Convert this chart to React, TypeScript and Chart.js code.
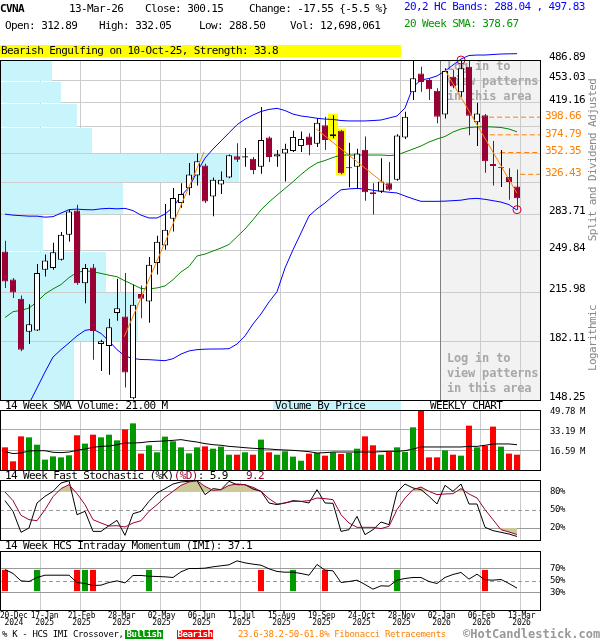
import React, { useEffect, useRef } from 'react';
import { Chart, registerables } from 'chart.js';

Chart.register(...registerables);

const FONT = "'DejaVu Sans Mono', monospace";

// ---------------- categories / tick labels ----------------
const tickWeeks = [0, 4, 9, 14, 19, 24, 29, 34, 39, 44, 49, 54, 59, 64];
const tickDates = ['20-Dec', '17-Jan', '21-Feb', '28-Mar', '02-May', '06-Jun', '11-Jul', '15-Aug', '19-Sep', '24-Oct', '28-Nov', '02-Jan', '06-Feb', '13-Mar'];
const tickYears = ['2024', '2025', '2025', '2025', '2025', '2025', '2025', '2025', '2025', '2025', '2025', '2026', '2026', '2026'];

const priceTicks = [148.25, 182.11, 215.98, 249.84, 283.71, 317.57, 351.44, 385.3, 419.16, 453.03, 486.89];
const priceTickLabels = ['148.25', '182.11', '215.98', '249.84', '283.71', '', '', '', '419.16', '453.03', '486.89'];
const volumeTicks = [16.59, 33.19, 49.78];
const stochTicks = [20, 50, 80];
const imiTicks = [30, 50, 70];

// ---------------- weekly OHLC ----------------
const open = [
  249.3, 226.0, 211.2, 188.3, 189.1, 233.8, 235.2, 242.1, 264.2, 287.6,
  223.1, 235.7, 180.4, 179.0, 201.0, 198.6, 149.2, 214.7, 209.2, 239.4,
  254.4, 279.4, 295.2, 310.8, 325.0, 336.8, 302.0, 315.0, 322.8, 347.7,
  346.2, 344.6, 335.1, 371.2, 347.4, 351.0, 354.2, 360.3, 372.5, 363.2,
  387.4, 373.0, 380.0, 333.4, 335.1, 355.8, 306.7, 307.4, 316.5, 320.2,
  371.2, 435.0, 464.3, 454.0, 437.1, 402.5, 459.1, 435.0, 475.6, 391.5,
  401.4, 338.3, 333.8, 323.3, 312.89,
];
const high = [
  258.7, 227.1, 213.7, 207.3, 238.6, 246.6, 256.9, 266.7, 288.3, 293.5,
  238.6, 238.6, 183.1, 196.9, 226.6, 231.2, 221.8, 221.2, 244.4, 263.4,
  294.3, 311.2, 316.5, 339.5, 351.0, 338.8, 322.8, 329.6, 349.8, 364.0,
  357.8, 346.9, 413.2, 372.5, 355.5, 363.2, 380.0, 379.1, 376.9, 396.9,
  399.1, 401.4, 381.3, 364.5, 357.0, 372.5, 316.5, 345.4, 340.8, 375.6,
  406.4, 485.2, 475.6, 456.6, 441.2, 472.9, 470.2, 486.89, 485.0, 419.1,
  403.0, 366.9, 355.5, 333.4, 332.05,
];
const low = [
  219.3, 211.8, 175.8, 180.4, 188.7, 228.4, 233.8, 241.5, 258.0, 221.8,
  208.0, 170.7, 164.1, 161.9, 195.6, 154.9, 148.6, 197.4, 194.3, 230.0,
  250.7, 267.3, 290.3, 303.5, 314.0, 295.2, 282.0, 304.7, 322.0, 340.8,
  335.1, 326.5, 327.0, 340.8, 335.1, 318.3, 352.9, 352.9, 349.0, 359.1,
  355.5, 370.4, 326.5, 312.0, 310.3, 297.6, 283.7, 305.7, 308.2, 319.1,
  369.5, 423.4, 435.9, 423.4, 390.1, 396.9, 441.2, 428.3, 374.3, 360.3,
  328.1, 314.0, 312.4, 298.6, 288.5,
];
const close = [
  224.3, 216.0, 176.8, 193.3, 231.2, 241.5, 248.6, 264.2, 286.6, 223.1,
  235.2, 188.7, 182.1, 191.2, 204.4, 163.2, 206.8, 211.2, 237.9, 257.8,
  268.9, 300.4, 304.7, 326.1, 341.6, 296.8, 320.2, 320.2, 349.0, 343.4,
  347.7, 331.5, 368.2, 346.9, 350.2, 357.0, 372.1, 369.5, 361.5, 391.1,
  368.2, 375.6, 327.7, 334.6, 351.0, 306.7, 304.7, 318.3, 309.2, 373.8,
  399.1, 456.6, 450.7, 439.6, 399.1, 468.4, 443.9, 472.9, 400.5, 403.9,
  341.6, 336.0, 334.6, 317.7, 300.15,
];

// 20,2 HC bands and 20 week SMA
const upperBand = [
  284.0, 283.0, 282.5, 282.0, 282.0, 281.0, 281.5, 285.0, 288.5, 289.0,
  288.5, 288.3, 289.3, 289.8, 289.3, 289.8, 287.5, 283.0, 280.2, 280.2,
  284.0, 291.0, 302.6, 312.0, 329.1, 345.5, 356.6, 366.8, 377.4, 388.3,
  395.8, 401.7, 406.7, 409.6, 411.2, 408.0, 403.0, 400.3, 398.9, 397.1,
  396.0, 395.5, 394.0, 393.4, 393.4, 393.4, 394.0, 394.7, 397.5, 400.3,
  411.7, 443.0, 454.0, 456.4, 460.5, 468.4, 478.5, 488.6, 494.6, 495.4,
  495.4, 496.3, 497.2, 497.5, 497.83,
];
const lowerBand = [
  131.0, 136.0, 141.5, 146.3, 154.6, 163.5, 172.3, 176.8, 181.0, 185.5,
  189.1, 190.0, 187.1, 182.2, 176.8, 172.9, 171.4, 170.8, 170.7, 170.4,
  170.1, 171.3, 174.1, 176.0, 176.8, 177.1, 177.2, 177.2, 177.4, 180.3,
  185.5, 193.4, 200.3, 208.9, 216.5, 235.2, 250.7, 265.9, 282.2, 289.3,
  295.3, 302.6, 309.2, 310.2, 310.7, 310.2, 308.7, 307.5, 306.6, 305.8,
  302.6, 299.6, 297.0, 297.0, 297.0, 297.2, 297.7, 298.2, 299.6, 300.1,
  299.1, 297.7, 296.2, 293.6, 288.04,
];
const sma20 = [
  197.8, 201.9, 202.8, 204.5, 208.9, 214.8, 218.6, 222.0, 227.5, 231.6,
  233.0, 232.2, 230.8, 229.4, 228.2, 224.8, 222.0, 219.0, 218.6, 219.4,
  220.9, 225.8, 232.0, 236.5, 245.3, 247.0, 249.6, 252.3, 255.4, 262.4,
  269.6, 278.4, 288.3, 296.3, 303.5, 310.7, 318.1, 326.2, 333.7, 339.6,
  342.6, 346.2, 349.2, 349.2, 349.2, 349.2, 349.2, 349.2, 348.6, 349.2,
  352.9, 356.6, 360.4, 365.5, 369.4, 372.6, 378.5, 382.5, 384.5, 385.2,
  385.6, 385.2, 384.5, 382.5, 378.67,
];

// volume (millions) and its 14 week SMA
const volume = [
  18.8, 7.2, 27.9, 27.1, 21.0, 8.6, 11.3, 10.5, 12.2, 28.8,
  21.9, 29.3, 27.1, 29.3, 24.6, 33.7, 38.7, 13.6, 20.5, 14.7,
  27.7, 23.8, 18.8, 13.8, 18.8, 19.6, 17.7, 19.4, 12.7, 12.7,
  14.7, 12.7, 25.2, 14.7, 12.7, 15.5, 11.1, 7.7, 13.6, 14.1,
  11.9, 14.7, 13.3, 14.1, 17.7, 27.9, 20.5, 12.7, 14.9, 18.8,
  14.9, 35.4, 49.78, 10.5, 10.5, 16.3, 12.7, 11.9, 36.8, 18.8,
  20.2, 36.0, 19.4, 13.6, 12.7,
];
const volumeSma = [
  15.2, 13.6, 14.1, 15.8, 16.0, 16.0, 14.7, 14.4, 14.9, 16.3,
  17.4, 18.8, 19.6, 19.9, 21.0, 22.4, 22.4, 22.7, 23.5, 23.8,
  24.1, 24.6, 25.2, 24.1, 23.2, 21.9, 21.0, 20.5, 19.6, 19.1,
  18.5, 18.0, 17.7, 17.4, 16.9, 16.6, 16.3, 15.8, 15.2, 14.1,
  14.4, 14.9, 14.9, 14.9, 14.9, 14.9, 14.9, 15.2, 15.5, 15.5,
  16.0, 17.4, 19.1, 19.1, 19.1, 19.1, 19.1, 19.1, 19.6, 19.6,
  20.5, 21.6, 21.6, 21.6, 21.0,
];

// volume by price, bottom band to top band (millions)
const volumeByPrice = [37, 69, 53, 21.5, 61.5, 119.5, 46, 38.5, 30.5, 26];

// 14 week fast stochastic
const stochK = [
  65.6, 47.8, 12.8, 20.0, 61.7, 72.8, 81.1, 95.0, 98.9, 42.2,
  47.8, 14.4, 14.4, 23.9, 32.8, 7.8, 43.9, 47.8, 64.4, 78.3,
  85.6, 93.3, 96.7, 97.8, 98.9, 75.6, 85.6, 83.9, 97.8, 92.2,
  92.2, 85.0, 81.1, 61.7, 58.9, 61.7, 65.6, 64.4, 61.7, 83.9,
  61.7, 61.1, 14.4, 17.2, 39.4, 8.9, 17.2, 30.0, 25.6, 80.0,
  93.3, 86.7, 83.9, 72.8, 60.0, 91.1, 81.1, 93.3, 60.0, 60.0,
  21.1, 15.6, 12.8, 10.0, 5.9,
];
const stochD = [
  80.0, 65.6, 41.1, 33.9, 32.2, 50.6, 72.2, 85.6, 92.2, 77.2,
  58.9, 33.9, 28.3, 23.3, 23.9, 21.7, 28.3, 32.2, 47.8, 58.9,
  71.1, 81.1, 91.1, 96.7, 98.9, 89.4, 82.8, 83.9, 91.1, 93.3,
  92.2, 87.8, 81.1, 68.9, 60.0, 61.7, 64.4, 64.4, 65.6, 70.0,
  68.9, 67.2, 42.2, 28.3, 21.1, 21.1, 21.1, 19.0, 22.8, 50.6,
  70.0, 83.9, 88.3, 81.1, 75.6, 76.7, 77.2, 85.6, 76.7, 70.0,
  50.6, 33.9, 17.2, 13.3, 9.2,
];

// 14 week HCS intraday momentum
const imi = [
  68.6, 61.9, 49.4, 48.3, 55.1, 59.0, 59.0, 59.0, 59.0, 46.6,
  44.9, 41.5, 42.1, 46.6, 49.4, 46.0, 58.5, 58.5, 57.3, 56.8,
  56.2, 55.1, 64.7, 70.3, 70.3, 70.9, 73.2, 74.9, 76.6, 83.3,
  79.9, 77.7, 76.0, 69.8, 65.3, 64.1, 64.1, 61.9, 59.0, 77.1,
  67.5, 66.4, 46.6, 48.3, 50.6, 43.2, 35.3, 41.0, 40.4, 50.6,
  53.4, 55.1, 55.1, 48.3, 44.9, 55.1, 60.2, 63.6, 52.3, 60.7,
  51.1, 50.6, 51.7, 44.9, 37.1,
];
const imiBullishCross = [4, 10, 18, 36, 49];
const imiBearishCross = [0, 9, 11, 32, 40, 60];

// patterns, trend lines, fibonacci
const patternWeeks = [41, 42];
const trendLines = [
  [[14.9, 185.0], [24.9, 353.3]],
  [[38.9, 382.5], [47.9, 312.6]],
  [[55.0, 470.2], [64.0, 305.5]],
];
const fibLevels = [398.66, 374.79, 352.35, 326.43];
const fibStartWeek = [58.5, 59.6, 61.9, 64.4];
const swingPoints = [[57, 486.89], [64, 288.5]];
const shadeFromWeek = 54;
const loginLines = ['Log in to', 'view patterns', 'in this area'];

// ---------------- styling ----------------
const X_MIN = -0.625;
const X_MAX = 66.875;
const GRID_SHIFT = 0.375; // date gridline sits at the right edge of a weekly bar
const GRID = '#cccccc';
const DARKGRID = '#999999';
const CANDLE_RED = '#990033';
const VOL_GREEN = '#009900';
const VOL_RED = '#ff0000';
const KHAKI = '#ccc899';
const ORANGE = '#ff8000';
const CLEAR = 'rgba(0,0,0,0)';
const IMI_BAR = [32, 68];

const idx = open.map((_, i) => i);
const isUp = (i: number) => close[i] >= open[i];
const toXY = (arr: number[]) => arr.map((v, i) => ({ x: i, y: v }));

const common: any = {
  responsive: false,
  maintainAspectRatio: false,
  animation: false,
  devicePixelRatio: 1,
  events: [],
  plugins: { legend: { display: false }, tooltip: { enabled: false } },
};

function layoutPad(top: number, bottom: number): any {
  return { autoPadding: false, padding: { top, bottom, left: 0, right: 0 } };
}

function xAxis(): any {
  return {
    type: 'linear',
    min: X_MIN,
    max: X_MAX,
    offset: false,
    afterBuildTicks: (s: any) => {
      s.ticks = tickWeeks.map((w) => ({ value: w + GRID_SHIFT }));
    },
    ticks: { display: false },
    grid: { offset: false, drawTicks: false, lineWidth: 1, color: (c: any) => (c.index === 0 ? CLEAR : GRID) },
    border: { display: false },
    afterFit: (s: any) => {
      s.height = 0;
      s.paddingLeft = 0;
      s.paddingRight = 0;
      s.paddingTop = 0;
      s.paddingBottom = 0;
    },
  };
}

function rightAxis(extra: any): any {
  return {
    position: 'right',
    border: { display: false },
    afterFit: (s: any) => {
      s.width = 60;
      s.paddingTop = 0;
      s.paddingBottom = 0;
    },
    ...extra,
  };
}

function drawFrame(chart: any) {
  const { ctx, chartArea: a } = chart;
  ctx.save();
  ctx.strokeStyle = '#000';
  ctx.lineWidth = 1;
  ctx.setLineDash([]);
  ctx.strokeRect(a.left + 0.5, a.top + 0.5, a.right - a.left, a.bottom - a.top);
  ctx.restore();
}

function drawDashed(chart: any, value: number) {
  const { ctx, chartArea: a, scales } = chart;
  const yy = Math.round(scales.y.getPixelForValue(value)) + 0.5;
  ctx.save();
  ctx.strokeStyle = DARKGRID;
  ctx.lineWidth = 1;
  ctx.setLineDash([4, 3]);
  ctx.beginPath();
  ctx.moveTo(a.left, yy);
  ctx.lineTo(a.right, yy);
  ctx.stroke();
  ctx.restore();
}

function priceConfig(): any {
  const decor = {
    id: 'priceDecor',
    beforeDraw(chart: any) {
      const { ctx, chartArea: a, scales } = chart;
      ctx.letterSpacing = '-0.6px';
      const sx = scales.x.getPixelForValue(shadeFromWeek + GRID_SHIFT);
      ctx.save();
      ctx.fillStyle = '#f2f2f2';
      ctx.fillRect(sx, a.top, a.right - sx, a.bottom - a.top);
      ctx.restore();
    },
    beforeDatasetsDraw(chart: any) {
      const { ctx, chartArea: a, scales } = chart;
      const y = scales.y;
      const xv = scales.xv;
      ctx.save();
      ctx.fillStyle = '#c8f4fc';
      for (let k = 0; k < volumeByPrice.length; k++) {
        const yt = Math.round(y.getPixelForValue(priceTicks[k + 1])) + 1;
        const yb = Math.round(y.getPixelForValue(priceTicks[k]));
        const w = xv.getPixelForValue(volumeByPrice[k]) - a.left;
        ctx.fillRect(a.left, yt, w, yb - yt);
      }
      const sx = Math.round(scales.x.getPixelForValue(shadeFromWeek + GRID_SHIFT)) + 0.5;
      ctx.strokeStyle = '#808080';
      ctx.lineWidth = 1;
      ctx.beginPath();
      ctx.moveTo(sx, a.top);
      ctx.lineTo(sx, a.bottom);
      ctx.stroke();
      ctx.fillStyle = '#a8a8a8';
      ctx.font = `bold 12px ${FONT}`;
      ctx.letterSpacing = '-0.2px';
      ctx.textBaseline = 'middle';
      ctx.textAlign = 'left';
      loginLines.forEach((t, k) => {
        ctx.fillText(t, sx + 6.5, a.top + 7 + 15 * k);
        ctx.fillText(t, sx + 6.5, a.bottom - 41 + 15 * k);
      });
      ctx.restore();
    },
    afterDraw(chart: any) {
      const { ctx, chartArea: a, scales } = chart;
      drawFrame(chart);
      ctx.save();
      ctx.font = `11px ${FONT}`;
      ctx.textBaseline = 'middle';
      ctx.textAlign = 'left';
      ctx.fillStyle = ORANGE;
      fibLevels.forEach((lv) => {
        ctx.fillText(lv.toFixed(2), a.right + 5, scales.y.getPixelForValue(lv) - 1);
      });
      ctx.fillStyle = '#888888';
      ctx.textAlign = 'center';
      const side = (t: string, cx: number, cy: number) => {
        ctx.save();
        ctx.translate(cx, cy);
        ctx.rotate(-Math.PI / 2);
        ctx.fillText(t, 0, 0);
        ctx.restore();
      };
      side('Split and Dividend Adjusted', 593, 160);
      side('Logarithmic', 593, 338);
      ctx.restore();
    },
  };

  const datasets: any[] = [
    {
      type: 'bar',
      xAxisID: 'x',
      data: patternWeeks.map((i) => ({ x: i, y: [low[i] / 1.005, high[i] * 1.005] })),
      backgroundColor: '#ffff00',
      grouped: false,
      barPercentage: 1.25,
      categoryPercentage: 1,
      order: 20,
    },
    { type: 'line', xAxisID: 'x', data: toXY(upperBand), borderColor: '#0000ff', borderWidth: 1, pointRadius: 0, clip: false, order: 10 },
    { type: 'line', xAxisID: 'x', data: toXY(lowerBand), borderColor: '#0000ff', borderWidth: 1, pointRadius: 0, order: 10 },
    { type: 'line', xAxisID: 'x', data: toXY(sma20), borderColor: '#008800', borderWidth: 1, pointRadius: 0, order: 10 },
    ...fibLevels.map((lv, k) => ({
      type: 'line',
      xAxisID: 'x',
      data: [{ x: fibStartWeek[k], y: lv }, { x: X_MAX, y: lv }],
      borderColor: ORANGE,
      borderWidth: 1,
      borderDash: [5, 3],
      pointRadius: 0,
      order: 9,
    })),
    {
      type: 'bar',
      xAxisID: 'xw',
      data: idx.map((i) => ({ x: i, y: [low[i], high[i]] })),
      backgroundColor: idx.map((i) => (isUp(i) ? '#000000' : CANDLE_RED)),
      grouped: false,
      barPercentage: 0.125,
      categoryPercentage: 1,
      order: 3,
    },
    {
      type: 'bar',
      xAxisID: 'x',
      data: idx.map((i) => ({ x: i, y: [open[i], close[i]] })),
      backgroundColor: idx.map((i) => (isUp(i) ? '#ffffff' : CANDLE_RED)),
      borderColor: idx.map((i) => (isUp(i) ? '#000000' : CANDLE_RED)),
      borderWidth: 1,
      borderSkipped: false,
      grouped: false,
      barPercentage: 0.75,
      categoryPercentage: 1,
      order: 2,
    },
    ...trendLines.map((ln) => ({
      type: 'line',
      xAxisID: 'x',
      data: ln.map((p) => ({ x: p[0], y: p[1] })),
      borderColor: ORANGE,
      borderWidth: 1,
      pointRadius: 0,
      order: 1,
    })),
    {
      type: 'line',
      xAxisID: 'x',
      data: swingPoints.map((p) => ({ x: p[0], y: p[1] })),
      showLine: false,
      pointRadius: 4,
      pointStyle: 'circle',
      pointBorderColor: '#cc0033',
      pointBackgroundColor: CLEAR,
      pointBorderWidth: 1,
      clip: false,
      order: 0,
    },
  ];

  return {
    type: 'bar',
    data: { datasets },
    options: {
      ...common,
      layout: layoutPad(60, 8),
      scales: {
        x: xAxis(),
        xw: { type: 'linear', display: false, offset: false, min: X_MIN - 1 / 16, max: X_MAX - 1 / 16 },
        xv: { type: 'linear', display: false, offset: false, min: 0, max: 270 },
        y: rightAxis({
          type: 'logarithmic',
          min: priceTicks[0],
          max: priceTicks[priceTicks.length - 1],
          afterBuildTicks: (s: any) => {
            s.ticks = priceTicks.map((v) => ({ value: v }));
          },
          ticks: {
            autoSkip: false,
            padding: 9,
            labelOffset: -3,
            color: '#000',
            font: { family: FONT, size: 11 },
            callback: (_v: any, i: number) => priceTickLabels[i],
          },
          grid: { color: GRID, drawTicks: false },
        }),
      },
    },
    plugins: [decor],
  };
}

function volumeConfig(): any {
  return {
    type: 'bar',
    data: {
      datasets: [
        { type: 'line', xAxisID: 'x', data: toXY(volumeSma), borderColor: '#000', borderWidth: 1, pointRadius: 0, order: 0 },
        {
          type: 'bar',
          xAxisID: 'x',
          data: toXY(volume),
          backgroundColor: idx.map((i) => (isUp(i) ? VOL_GREEN : VOL_RED)),
          grouped: false,
          barPercentage: 0.75,
          categoryPercentage: 1,
          order: 1,
        },
      ],
    },
    options: {
      ...common,
      layout: layoutPad(10, 8),
      scales: {
        x: xAxis(),
        y: rightAxis({
          type: 'linear',
          min: 0,
          max: volumeTicks[volumeTicks.length - 1],
          afterBuildTicks: (s: any) => {
            s.ticks = volumeTicks.map((v) => ({ value: v }));
          },
          ticks: {
            autoSkip: false,
            padding: 10,
            labelOffset: 2,
            color: '#000',
            font: { family: FONT, size: 9 },
            callback: (v: any) => `${Number(v).toFixed(2)} M`,
          },
          grid: { color: '#aaaaaa', drawTicks: false },
        }),
      },
    },
    plugins: [
      {
        id: 'volDecor',
        beforeDraw(chart: any) {
          chart.ctx.letterSpacing = '-0.4px';
        },
        afterDraw(chart: any) {
          drawFrame(chart);
        },
      },
    ],
  };
}

function stochConfig(): any {
  return {
    type: 'line',
    data: {
      datasets: [
        { data: toXY(stochD), borderColor: CLEAR, borderWidth: 0, pointRadius: 0, fill: { target: { value: 80 }, above: KHAKI, below: CLEAR }, order: 5 },
        { data: toXY(stochD), borderColor: CLEAR, borderWidth: 0, pointRadius: 0, fill: { target: { value: 20 }, above: CLEAR, below: KHAKI }, order: 5 },
        { data: toXY(stochK), borderColor: '#000000', borderWidth: 1, pointRadius: 0, fill: false, order: 2 },
        { data: toXY(stochD), borderColor: CANDLE_RED, borderWidth: 1, pointRadius: 0, fill: false, order: 1 },
      ],
    },
    options: {
      ...common,
      layout: layoutPad(8, 8),
      scales: {
        x: xAxis(),
        y: rightAxis({
          type: 'linear',
          min: 0,
          max: 100,
          afterBuildTicks: (s: any) => {
            s.ticks = stochTicks.map((v) => ({ value: v }));
          },
          ticks: { autoSkip: false, padding: 10, color: '#000', font: { family: FONT, size: 9 }, callback: (v: any) => `${v}%` },
          grid: { drawTicks: false, color: (c: any) => (c.tick && c.tick.value === 50 ? CLEAR : DARKGRID) },
        }),
      },
    },
    plugins: [
      {
        id: 'stoDecor',
        beforeDraw(chart: any) {
          chart.ctx.letterSpacing = '-0.4px';
        },
        beforeDatasetsDraw(chart: any) {
          drawDashed(chart, 50);
        },
        afterDraw(chart: any) {
          drawFrame(chart);
        },
      },
    ],
  };
}

function imiConfig(): any {
  return {
    type: 'bar',
    data: {
      datasets: [
        { type: 'line', xAxisID: 'x', data: toXY(imi), borderColor: '#000', borderWidth: 1, pointRadius: 0, order: 0 },
        {
          type: 'bar',
          xAxisID: 'x',
          data: imiBullishCross.map((i) => ({ x: i, y: IMI_BAR })),
          backgroundColor: VOL_GREEN,
          grouped: false,
          barPercentage: 0.75,
          categoryPercentage: 1,
          order: 1,
        },
        {
          type: 'bar',
          xAxisID: 'x',
          data: imiBearishCross.map((i) => ({ x: i, y: IMI_BAR })),
          backgroundColor: VOL_RED,
          grouped: false,
          barPercentage: 0.75,
          categoryPercentage: 1,
          order: 1,
        },
      ],
    },
    options: {
      ...common,
      layout: layoutPad(9, 22),
      scales: {
        x: xAxis(),
        y: rightAxis({
          type: 'linear',
          min: 0,
          max: 100,
          afterBuildTicks: (s: any) => {
            s.ticks = imiTicks.map((v) => ({ value: v }));
          },
          ticks: { autoSkip: false, padding: 10, color: '#000', font: { family: FONT, size: 9 }, callback: (v: any) => `${v}%` },
          grid: { drawTicks: false, color: (c: any) => (c.tick && c.tick.value === 50 ? CLEAR : DARKGRID) },
        }),
      },
    },
    plugins: [
      {
        id: 'imiDecor',
        beforeDraw(chart: any) {
          chart.ctx.letterSpacing = '-0.4px';
        },
        beforeDatasetsDraw(chart: any) {
          drawDashed(chart, 50);
        },
        afterDraw(chart: any) {
          drawFrame(chart);
          const { ctx, chartArea: a, scales } = chart;
          ctx.save();
          ctx.font = `8px ${FONT}`;
          ctx.letterSpacing = '-0.2px';
          ctx.fillStyle = '#000';
          ctx.textAlign = 'center';
          ctx.textBaseline = 'middle';
          let prevRight = -Infinity;
          tickWeeks.forEach((w, k) => {
            const wd = ctx.measureText(tickDates[k]).width;
            let cx = scales.x.getPixelForValue(w + GRID_SHIFT) + 1.5;
            cx = Math.max(cx, wd / 2, prevRight + 3 + wd / 2);
            prevRight = cx + wd / 2;
            ctx.fillText(tickDates[k], cx, a.bottom + 5.5);
            ctx.fillText(tickYears[k], cx, a.bottom + 13);
          });
          ctx.restore();
        },
      },
    ],
  };
}

const T = ({ x, y, c = '#000', s = 11, ls = -0.6, b = false, h = 12, children }: any) => (
  <div
    style={{
      position: 'absolute',
      left: x,
      top: y,
      color: c,
      fontSize: s,
      letterSpacing: ls,
      fontWeight: b ? 'bold' : 'normal',
      lineHeight: `${h}px`,
      whiteSpace: 'pre',
      fontFamily: FONT,
    }}
  >
    {children}
  </div>
);

export default function App() {
  const priceRef = useRef<HTMLCanvasElement>(null);
  const volRef = useRef<HTMLCanvasElement>(null);
  const stoRef = useRef<HTMLCanvasElement>(null);
  const imiRef = useRef<HTMLCanvasElement>(null);

  useEffect(() => {
    document.body.style.margin = '0';
    const charts: Chart[] = [];
    charts.push(new Chart(priceRef.current as any, priceConfig()));
    charts.push(new Chart(volRef.current as any, volumeConfig()));
    charts.push(new Chart(stoRef.current as any, stochConfig()));
    charts.push(new Chart(imiRef.current as any, imiConfig()));
    return () => charts.forEach((c) => c.destroy());
  }, []);

  const cv = (top: number): any => ({ position: 'absolute', left: 0, top });

  return (
    <div style={{ position: 'relative', width: 600, height: 640, background: '#fff', overflow: 'hidden', fontFamily: FONT }}>
      <canvas ref={priceRef} width={600} height={408} style={cv(0)} />
      <canvas ref={volRef} width={600} height={78} style={cv(400)} />
      <canvas ref={stoRef} width={600} height={76} style={cv(472)} />
      <canvas ref={imiRef} width={600} height={90} style={cv(542)} />

      {/* header */}
      <T x={0} y={3} b>CVNA</T>
      <T x={69} y={3}>13-Mar-26</T>
      <T x={145} y={3}>Close: 300.15</T>
      <T x={249} y={3}>{'Change: -17.55 {-5.5 %}'}</T>
      <T x={5} y={20}>Open: 312.89</T>
      <T x={99} y={20}>High: 332.05</T>
      <T x={199} y={20}>Low: 288.50</T>
      <T x={290} y={20}>Vol: 12,698,061</T>
      <T x={404} y={1} c="#0000ff">20,2 HC Bands: 288.04 , 497.83</T>
      <T x={404} y={18} c="#009900">20 Week SMA: 378.67</T>
      <div style={{ position: 'absolute', left: 0, top: 45, width: 401, height: 12, background: '#ffff00' }} />
      <T x={1} y={45}>Bearish Engulfing on 10-Oct-25, Strength: 33.8</T>

      {/* panel titles */}
      <T x={5} y={400.5} h={10}>14 Week SMA Volume: 21.00 M</T>
      <div style={{ position: 'absolute', left: 273, top: 401, width: 128, height: 9, background: '#c8f4fc' }} />
      <T x={275} y={400.5} h={10}>Volume By Price</T>
      <T x={430} y={400.5} h={10}>WEEKLY CHART</T>
      <div style={{ position: 'absolute', left: 5, top: 470.5, whiteSpace: 'pre', fontSize: 11, letterSpacing: -0.6, lineHeight: '10px', fontFamily: FONT, color: '#000' }}>
        14 Week Fast Stochastic (%K)<span style={{ color: CANDLE_RED }}>(%D)</span>: 5.9   <span style={{ color: CANDLE_RED }}>9.2</span>
      </div>
      <T x={5} y={540.5} h={10}>14 Week HCS Intraday Momentum (IMI): 37.1</T>

      {/* footer */}
      <T x={2} y={629} s={9} ls={-0.35} h={11}>% K - HCS IMI Crossover,</T>
      <div style={{ position: 'absolute', left: 125, top: 630, width: 38, height: 9, background: VOL_GREEN, color: '#fff', fontWeight: 'bold', fontSize: 9, letterSpacing: -0.4, lineHeight: '9px', textAlign: 'center', fontFamily: FONT }}>Bullish</div>
      <div style={{ position: 'absolute', left: 177, top: 630, width: 36, height: 9, background: VOL_RED, color: '#fff', fontWeight: 'bold', fontSize: 9, letterSpacing: -0.4, lineHeight: '9px', textAlign: 'center', fontFamily: FONT }}>Bearish</div>
      <T x={238} y={629} s={9} ls={-0.35} h={11} c={ORANGE}>23.6-38.2-50-61.8% Fibonacci Retracements</T>
      <T x={463} y={628} s={12} ls={0} h={12} b c="#999999">©HotCandlestick.com</T>
    </div>
  );
}
